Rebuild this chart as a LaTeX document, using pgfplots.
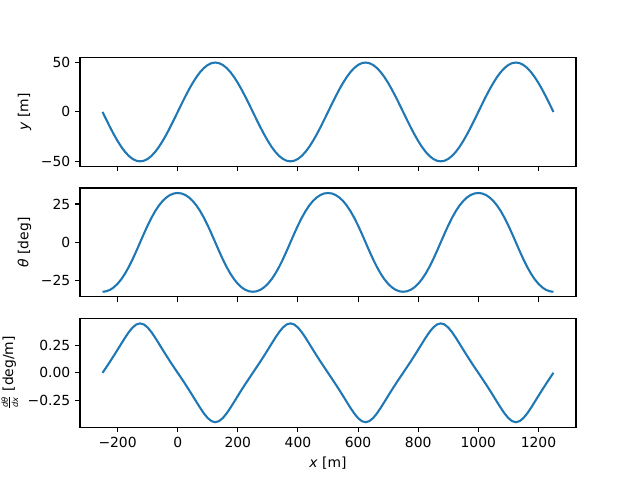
\documentclass[border=0pt]{standalone}
\usepackage{fontspec}
\setmainfont{DejaVu Sans}
\usepackage{pgfplots}
\usepackage{pgfplotstable}
\pgfplotsset{compat=1.18}
\definecolor{c0}{HTML}{1F77B4}
\pgfplotstableread{
x y th dth
-250 0 -32.14 0
-237.5 -7.82 -31.82 0.0511
-225 -15.45 -30.86 0.1030
-212.5 -22.70 -29.24 0.1564
-200 -29.39 -26.95 0.2113
-187.5 -35.36 -23.96 0.2672
-175 -40.45 -20.27 0.3221
-162.5 -44.55 -15.92 0.3728
-150 -47.55 -10.99 0.4146
-137.5 -49.38 -5.61 0.4426
-125 -50 0 0.4524
-112.5 -49.38 5.61 0.4426
-100 -47.55 10.99 0.4146
-87.5 -44.55 15.92 0.3728
-75 -40.45 20.27 0.3221
-62.5 -35.36 23.96 0.2672
-50 -29.39 26.95 0.2113
-37.5 -22.70 29.24 0.1564
-25 -15.45 30.86 0.1030
-12.5 -7.82 31.82 0.0511
0 0 32.14 0
12.5 7.82 31.82 -0.0511
25 15.45 30.86 -0.1030
37.5 22.70 29.24 -0.1564
50 29.39 26.95 -0.2113
62.5 35.36 23.96 -0.2672
75 40.45 20.27 -0.3221
87.5 44.55 15.92 -0.3728
100 47.55 10.99 -0.4146
112.5 49.38 5.61 -0.4426
125 50 0 -0.4524
137.5 49.38 -5.61 -0.4426
150 47.55 -10.99 -0.4146
162.5 44.55 -15.92 -0.3728
175 40.45 -20.27 -0.3221
187.5 35.36 -23.96 -0.2672
200 29.39 -26.95 -0.2113
212.5 22.70 -29.24 -0.1564
225 15.45 -30.86 -0.1030
237.5 7.82 -31.82 -0.0511
250 0 -32.14 0
262.5 -7.82 -31.82 0.0511
275 -15.45 -30.86 0.1030
287.5 -22.70 -29.24 0.1564
300 -29.39 -26.95 0.2113
312.5 -35.36 -23.96 0.2672
325 -40.45 -20.27 0.3221
337.5 -44.55 -15.92 0.3728
350 -47.55 -10.99 0.4146
362.5 -49.38 -5.61 0.4426
375 -50 0 0.4524
387.5 -49.38 5.61 0.4426
400 -47.55 10.99 0.4146
412.5 -44.55 15.92 0.3728
425 -40.45 20.27 0.3221
437.5 -35.36 23.96 0.2672
450 -29.39 26.95 0.2113
462.5 -22.70 29.24 0.1564
475 -15.45 30.86 0.1030
487.5 -7.82 31.82 0.0511
500 0 32.14 0
512.5 7.82 31.82 -0.0511
525 15.45 30.86 -0.1030
537.5 22.70 29.24 -0.1564
550 29.39 26.95 -0.2113
562.5 35.36 23.96 -0.2672
575 40.45 20.27 -0.3221
587.5 44.55 15.92 -0.3728
600 47.55 10.99 -0.4146
612.5 49.38 5.61 -0.4426
625 50 0 -0.4524
637.5 49.38 -5.61 -0.4426
650 47.55 -10.99 -0.4146
662.5 44.55 -15.92 -0.3728
675 40.45 -20.27 -0.3221
687.5 35.36 -23.96 -0.2672
700 29.39 -26.95 -0.2113
712.5 22.70 -29.24 -0.1564
725 15.45 -30.86 -0.1030
737.5 7.82 -31.82 -0.0511
750 0 -32.14 0
762.5 -7.82 -31.82 0.0511
775 -15.45 -30.86 0.1030
787.5 -22.70 -29.24 0.1564
800 -29.39 -26.95 0.2113
812.5 -35.36 -23.96 0.2672
825 -40.45 -20.27 0.3221
837.5 -44.55 -15.92 0.3728
850 -47.55 -10.99 0.4146
862.5 -49.38 -5.61 0.4426
875 -50 0 0.4524
887.5 -49.38 5.61 0.4426
900 -47.55 10.99 0.4146
912.5 -44.55 15.92 0.3728
925 -40.45 20.27 0.3221
937.5 -35.36 23.96 0.2672
950 -29.39 26.95 0.2113
962.5 -22.70 29.24 0.1564
975 -15.45 30.86 0.1030
987.5 -7.82 31.82 0.0511
1000 0 32.14 0
1012.5 7.82 31.82 -0.0511
1025 15.45 30.86 -0.1030
1037.5 22.70 29.24 -0.1564
1050 29.39 26.95 -0.2113
1062.5 35.36 23.96 -0.2672
1075 40.45 20.27 -0.3221
1087.5 44.55 15.92 -0.3728
1100 47.55 10.99 -0.4146
1112.5 49.38 5.61 -0.4426
1125 50 0 -0.4524
1137.5 49.38 -5.61 -0.4426
1150 47.55 -10.99 -0.4146
1162.5 44.55 -15.92 -0.3728
1175 40.45 -20.27 -0.3221
1187.5 35.36 -23.96 -0.2672
1200 29.39 -26.95 -0.2113
1212.5 22.70 -29.24 -0.1564
1225 15.45 -30.86 -0.1030
1237.5 7.82 -31.82 -0.0511
1250 0 -32.14 0
}\data
\pgfplotsset{
  myax/.style={
    scale only axis, width=357.12pt, height=78.26pt,
    xmin=-325, xmax=1325,
    xtick={-200,0,200,400,600,800,1000,1200},
    tick align=outside, tick pos=left,
    major tick length=3.5pt,
    tick style={black, line width=0.8pt},
    axis line style={line width=0.8pt},
    ticklabel style={font=\fontsize{10}{12}\selectfont},
    label style={font=\fontsize{10}{12}\selectfont},
    anchor=south west,
  },
  myplot/.style={c0, line width=1.5pt, mark=none},
}
\begin{document}
\begin{tikzpicture}
\useasboundingbox (-57.6pt,-38.02pt) rectangle (403.2pt,307.55pt);
\begin{axis}[myax, at={(0pt,187.82pt)},
  ymin=-55, ymax=55, ytick={-50,0,50}, yticklabels={−50,0,50},
  xticklabels={}, ylabel={\textit{y} [m]}]
\addplot[myplot] table[x=x,y=y]{\data};
\end{axis}
\begin{axis}[myax, at={(0pt,93.91pt)},
  ymin=-35.36, ymax=35.36, ytick={-25,0,25}, yticklabels={−25,0,25},
  xticklabels={}, ylabel={\textit{θ} [deg]}]
\addplot[myplot] table[x=x,y=th]{\data};
\end{axis}
\begin{axis}[myax, at={(0pt,0pt)},
  ymin=-0.4976, ymax=0.4976, ytick={-0.25,0,0.25}, yticklabels={−0.25,0.00,0.25},
  xticklabels={−200,0,200,400,600,800,1000,1200},
  xlabel={\textit{x} [m]},
  ylabel={$\frac{\mbox{\fontsize{6}{7}\selectfont\itshape dθ}}{\mbox{\fontsize{6}{7}\selectfont\itshape dx}}$ [deg/m]}]
\addplot[myplot] table[x=x,y=dth]{\data};
\end{axis}
\end{tikzpicture}
\end{document}
